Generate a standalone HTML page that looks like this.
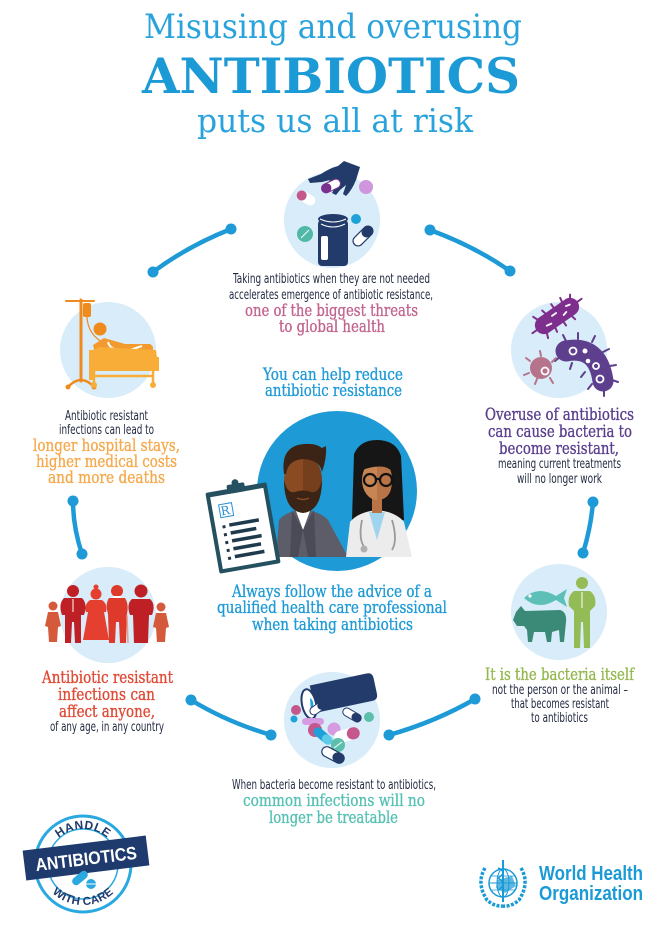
<!DOCTYPE html>
<html><head><meta charset="utf-8"><style>
html,body{margin:0;padding:0;background:#fff;}
svg{display:block;}
.ss{font-family:"DejaVu Serif","Liberation Serif",serif;}
.sn{font-family:"Liberation Sans Narrow","DejaVu Sans Condensed","Liberation Sans",sans-serif;fill:#222a40;font-size:13.5px;}
.hd{font-family:"DejaVu Serif","Liberation Serif",serif;font-size:16.5px;stroke-width:0.35;}
</style></head><body>
<svg width="662" height="929" viewBox="0 0 662 929" xmlns="http://www.w3.org/2000/svg">
<rect width="662" height="929" fill="#fff"/>

<!-- Title -->
<text class="ss" x="144" y="38" textLength="378" lengthAdjust="spacingAndGlyphs" font-size="34" fill="#2aa3dc">Misusing and overusing</text>
<text class="ss" x="142" y="93" textLength="378" lengthAdjust="spacingAndGlyphs" font-size="49" font-weight="bold" fill="#1c9ad6">ANTIBIOTICS</text>
<text class="ss" x="197" y="132" textLength="276" lengthAdjust="spacingAndGlyphs" font-size="33" fill="#2aa3dc">puts us all at risk</text>

<!-- Connectors -->
<g stroke="#1e9ad6" stroke-width="4.5" fill="none" stroke-linecap="round">
<path d="M153,272 Q188,246 231,229"/>
<path d="M430,230 Q474,246 510,271"/>
<path d="M73,501 Q73,527 82,554"/>
<path d="M593,502 Q591,527 583,553"/>
<path d="M191,700 Q227,722 271,735"/>
<path d="M389,735 Q435,722 475,699"/>
</g>
<g fill="#1e9ad6">
<circle cx="153" cy="272" r="5.5"/><circle cx="231" cy="229" r="5.5"/>
<circle cx="430" cy="230" r="5.5"/><circle cx="510" cy="271" r="5.5"/>
<circle cx="73" cy="501" r="5.5"/><circle cx="82" cy="554" r="5.5"/>
<circle cx="593" cy="502" r="5.5"/><circle cx="583" cy="553" r="5.5"/>
<circle cx="191" cy="700" r="5.5"/><circle cx="271" cy="735" r="5.5"/>
<circle cx="389" cy="735" r="5.5"/><circle cx="475" cy="699" r="5.5"/>
</g>

<!-- Top icon: hand + bottle -->
<circle cx="332" cy="220" r="48" fill="#d8ecf9"/>
<rect x="318" y="220" width="30" height="46" rx="4" fill="#223b6b"/>
<ellipse cx="333" cy="219" rx="15" ry="5" fill="#223b6b"/>
<path d="M320,219 Q333,225 346,219 M321,224 Q333,230 345,224" stroke="#fff" stroke-width="1" fill="none"/>
<rect x="321" y="236" width="7" height="24" rx="2" fill="#fff"/>
<path d="M344,161 L360,167 L356,180 Q352,190 346,196 L343,194 L346,185 L340,190 L336,195 L332,193 L337,184 L331,188 L326,192 L322,189 L330,180 L322,182 L310,183 L308,179 L321,174 Q330,168 338,166 Z" fill="#223b6b"/>
<g transform="translate(331,186) rotate(-25)"><rect x="-10" y="-4.5" width="20" height="9" rx="4.5" fill="#fff" stroke="#7b2f8e" stroke-width="1"/><rect x="-10" y="-4.5" width="10" height="9" rx="4.5" fill="#7b2f8e"/></g>
<g transform="translate(306,198) rotate(30)"><rect x="-10" y="-5" width="20" height="10" rx="5" fill="#fff"/><rect x="-10" y="-5" width="10" height="10" rx="5" fill="#c4578b"/></g>
<circle cx="305" cy="234" r="8" fill="#4fb8a6"/><line x1="301" y1="238" x2="309" y2="230" stroke="#fff" stroke-width="1"/>
<circle cx="356" cy="219" r="5" fill="#1ea1d8"/>
<circle cx="366" cy="187" r="7" fill="#cf96dd"/>
<g transform="translate(363,236) rotate(-45)"><rect x="-12" y="-5" width="24" height="10" rx="5" fill="#fff" stroke="#223b6b" stroke-width="1.2"/><rect x="0" y="-5" width="12" height="10" rx="5" fill="#223b6b"/></g>

<text class="sn" x="233" y="283" textLength="197" lengthAdjust="spacingAndGlyphs">Taking antibiotics when they are not needed</text>
<text class="sn" x="229" y="299" textLength="204" lengthAdjust="spacingAndGlyphs">accelerates emergence of antibiotic resistance,</text>
<text class="hd" x="245" y="316" textLength="173" lengthAdjust="spacingAndGlyphs" fill="#c2648f" stroke="#c2648f">one of the biggest threats</text>
<text class="hd" x="279" y="332" textLength="106" lengthAdjust="spacingAndGlyphs" fill="#c2648f" stroke="#c2648f">to global health</text>

<!-- Left icon: hospital -->
<circle cx="108" cy="350" r="48" fill="#d8ecf9"/>
<g stroke="#ef8b1d" fill="none" stroke-linecap="round">
<line x1="81" y1="300" x2="81" y2="381" stroke-width="3"/>
<line x1="66" y1="301" x2="94" y2="301" stroke-width="2"/>
<path d="M68,387 Q81,373 94,387" stroke-width="2.5"/>
<path d="M87,317 Q88,335 104,343" stroke-width="1.2"/>
</g>
<rect x="83" y="303" width="8" height="14" rx="2" fill="#ef8b1d"/>
<circle cx="68" cy="387" r="2.5" fill="#ef8b1d"/><circle cx="94" cy="387" r="2.5" fill="#ef8b1d"/>
<circle cx="100" cy="329" r="6.5" fill="#ef8b1d"/>
<path d="M93,345 L104,338 L125,344 L150,344 Q155,347 152,351 L96,357 Z" fill="#f29a2e"/>
<path d="M108,342 Q110,352 130,350 L142,346" stroke="#fff" stroke-width="2" fill="none"/>
<path d="M90,351 L100,347 L156,350 L157,358 L90,358 Z" fill="#f7ad38"/>
<rect x="89" y="357" width="70" height="14" fill="#f7ad38"/>
<rect x="89" y="350" width="4" height="30" fill="#f7ad38"/>
<g stroke="#f7ad38" stroke-width="2.5"><line x1="94" y1="371" x2="94" y2="383"/><line x1="153" y1="371" x2="153" y2="383"/><line x1="94" y1="376" x2="153" y2="376"/></g>
<circle cx="94" cy="385" r="3" fill="#f7ad38"/><circle cx="153" cy="385" r="3" fill="#f7ad38"/>

<text class="sn" x="65" y="420" textLength="83" lengthAdjust="spacingAndGlyphs">Antibiotic resistant</text>
<text class="sn" x="59" y="434" textLength="95" lengthAdjust="spacingAndGlyphs">infections can lead to</text>
<text class="hd" x="33" y="451" textLength="147" lengthAdjust="spacingAndGlyphs" fill="#f6a94b" stroke="#f6a94b">longer hospital stays,</text>
<text class="hd" x="36" y="467" textLength="141" lengthAdjust="spacingAndGlyphs" fill="#f6a94b" stroke="#f6a94b">higher medical costs</text>
<text class="hd" x="48" y="483" textLength="117" lengthAdjust="spacingAndGlyphs" fill="#f6a94b" stroke="#f6a94b">and more deaths</text>

<!-- Right icon: bacteria -->
<circle cx="559" cy="350" r="48" fill="#d8ecf9"/>
<g transform="translate(557,316) rotate(-35)">
<g stroke="#7e2f8e" stroke-width="2" stroke-linecap="round">
<line x1="-18" y1="-8" x2="-20" y2="-13"/><line x1="-8" y1="-8" x2="-9" y2="-13"/><line x1="2" y1="-8" x2="2" y2="-13"/><line x1="12" y1="-8" x2="13" y2="-13"/><line x1="20" y1="-6" x2="23" y2="-10"/>
<line x1="-18" y1="8" x2="-20" y2="13"/><line x1="-8" y1="8" x2="-9" y2="13"/><line x1="2" y1="8" x2="2" y2="13"/><line x1="12" y1="8" x2="13" y2="13"/><line x1="-25" y1="0" x2="-30" y2="0"/><line x1="25" y1="0" x2="30" y2="0"/>
</g>
<rect x="-25" y="-9" width="50" height="18" rx="9" fill="#7e2f8e"/>
<g stroke="#fff" stroke-width="1.8" stroke-linecap="round"><line x1="-14" y1="2" x2="-9" y2="3"/><line x1="-4" y1="-3" x2="1" y2="-3"/><line x1="6" y1="3" x2="10" y2="2"/><line x1="13" y1="-3" x2="17" y2="-2"/></g>
</g>
<g stroke="#5d3f8e" stroke-width="2" stroke-linecap="round">
<line x1="566" y1="341" x2="563" y2="335"/><line x1="578" y1="339" x2="578" y2="333"/><line x1="592" y1="342" x2="595" y2="336"/><line x1="603" y1="352" x2="609" y2="349"/><line x1="610" y1="366" x2="616" y2="365"/><line x1="612" y1="380" x2="618" y2="382"/><line x1="560" y1="357" x2="555" y2="361"/><line x1="572" y1="363" x2="570" y2="369"/><line x1="585" y1="372" x2="581" y2="377"/><line x1="592" y1="384" x2="588" y2="389"/><line x1="604" y1="391" x2="604" y2="396"/>
</g>
<path d="M566,351 Q598,345 603,381" stroke="#5d3f8e" stroke-width="21" fill="none" stroke-linecap="round"/>
<g fill="none" stroke="#fff" stroke-width="1.8"><circle cx="573" cy="351" r="3.5"/><circle cx="596" cy="366" r="3"/><circle cx="600" cy="379" r="3.5"/></g>
<circle cx="585" cy="351" r="2.5" fill="#fff"/><circle cx="588" cy="361" r="2.3" fill="#fff"/>
<g stroke="#b5748b" stroke-width="2" stroke-linecap="round"><line x1="541" y1="356" x2="540" y2="351"/><line x1="530" y1="361" x2="526" y2="358"/><line x1="529" y1="373" x2="524" y2="375"/><line x1="537" y1="379" x2="535" y2="384"/><line x1="550" y1="378" x2="553" y2="383"/><line x1="552" y1="362" x2="556" y2="358"/></g>
<circle cx="541" cy="368" r="11" fill="#b5748b"/>
<circle cx="545" cy="371" r="3.5" fill="none" stroke="#fff" stroke-width="1.8"/>

<text class="hd" x="485" y="420" textLength="149" lengthAdjust="spacingAndGlyphs" fill="#5a3e8e" stroke="#5a3e8e">Overuse of antibiotics</text>
<text class="hd" x="488" y="437" textLength="144" lengthAdjust="spacingAndGlyphs" fill="#5a3e8e" stroke="#5a3e8e">can cause bacteria to</text>
<text class="hd" x="499" y="454" textLength="120" lengthAdjust="spacingAndGlyphs" fill="#5a3e8e" stroke="#5a3e8e">become resistant,</text>
<text class="sn" x="498" y="468" textLength="123" lengthAdjust="spacingAndGlyphs">meaning current treatments</text>
<text class="sn" x="517" y="483" textLength="85" lengthAdjust="spacingAndGlyphs">will no longer work</text>

<!-- Center -->
<text class="hd" x="263" y="380" textLength="140" lengthAdjust="spacingAndGlyphs" fill="#1e9ad6" stroke="#1e9ad6">You can help reduce</text>
<text class="hd" x="265" y="396" textLength="137" lengthAdjust="spacingAndGlyphs" fill="#1e9ad6" stroke="#1e9ad6">antibiotic resistance</text>

<circle cx="337" cy="491" r="80" fill="#1e9ad6"/>
<!-- man -->
<path d="M276,557 L279,520 Q285,512 303,509 Q321,512 328,520 L348,557 Z" fill="#5d5d6a"/>
<path d="M296,511 L303,530 L310,511 Z" fill="#fff"/>
<path d="M292,510 L303,530 L298,557 L290,557 Z" fill="#4b4b58"/>
<path d="M314,510 L303,530 L308,557 L316,557 Z" fill="#4b4b58"/>
<ellipse cx="303" cy="481" rx="19" ry="25" fill="#8a4a22"/>
<path d="M303,456 Q322,458 322,481 Q322,504 303,506 Z" fill="#753e1c"/>
<path d="M284,474 Q280,446 304,444 Q316,443 322,448 L326,446 Q327,458 322,472 Q320,460 303,459 Q288,460 286,474 Z" fill="#3b2416"/>
<path d="M284,480 Q284,511 303,513 Q322,511 322,480 Q319,494 311,492 Q303,489 295,492 Q287,494 284,480 Z" fill="#3b2416"/>
<path d="M297,498 Q303,501 309,498" stroke="#8a4a22" stroke-width="1.5" fill="none"/>
<!-- woman -->
<path d="M354,454 Q360,440 377,440 Q396,440 401,456 L404,520 L352,520 Z" fill="#161616"/>
<path d="M346,557 L350,522 Q358,512 377,510 Q396,512 404,522 L412,557 Z" fill="#ececec"/>
<path d="M369,512 L377,540 L385,512 Z" fill="#9fd4ee"/>
<rect x="372" y="498" width="10" height="15" fill="#b87446"/>
<ellipse cx="377" cy="480" rx="15" ry="20" fill="#c68552"/>
<path d="M377,460 Q392,462 392,480 Q392,500 377,500 Z" fill="#b87446"/>
<path d="M362,470 Q364,456 380,457 Q392,458 393,472 Q384,462 362,470 Z" fill="#161616"/>
<g fill="none" stroke="#111" stroke-width="2.2"><circle cx="370" cy="480" r="6"/><circle cx="386" cy="480" r="6"/><line x1="376" y1="479" x2="380" y2="479"/></g>
<path d="M362,520 Q358,540 365,548 M392,520 Q398,540 392,550" stroke="#9a9a9a" stroke-width="1.8" fill="none"/>
<circle cx="364" cy="549" r="3.5" fill="#b0b0b0"/>
<!-- clipboard -->
<g transform="translate(243,528) rotate(-10)">
<rect x="-31" y="-41" width="62" height="82" rx="2" fill="#24505f"/>
<rect x="-27" y="-36" width="54" height="73" fill="#fff"/>
<rect x="-9" y="-45" width="18" height="9" rx="2" fill="#24505f"/>
<circle cx="0" cy="-46" r="3.5" fill="#24505f"/>
<rect x="-20" y="-27" width="13" height="13" fill="none" stroke="#2a8fd0" stroke-width="1"/>
<text x="-19" y="-16" font-family="DejaVu Serif,serif" font-size="12" fill="#2a8fd0">R</text>
<g fill="#1f3a4d"><rect x="-20" y="-6" width="3" height="3"/><rect x="-13" y="-7" width="30" height="3.5"/><rect x="-20" y="2" width="3" height="3"/><rect x="-13" y="1" width="26" height="3.5"/><rect x="-20" y="10" width="3" height="3"/><rect x="-13" y="9" width="30" height="3.5"/><rect x="-20" y="18" width="3" height="3"/><rect x="-13" y="17" width="28" height="3.5"/><rect x="-20" y="26" width="3" height="3"/><rect x="-13" y="25" width="30" height="3.5"/></g>
</g>

<text class="hd" x="232" y="597" textLength="200" lengthAdjust="spacingAndGlyphs" fill="#1e9ad6" stroke="#1e9ad6">Always follow the advice of a</text>
<text class="hd" x="217" y="613" textLength="230" lengthAdjust="spacingAndGlyphs" fill="#1e9ad6" stroke="#1e9ad6">qualified health care professional</text>
<text class="hd" x="252" y="630" textLength="161" lengthAdjust="spacingAndGlyphs" fill="#1e9ad6" stroke="#1e9ad6">when taking antibiotics</text>

<!-- Right-bottom icon: fish, cow, person -->
<circle cx="559" cy="612" r="48" fill="#d8ecf9"/>
<path d="M524,598 Q538,585 556,596 L567,589 L564,598 L567,607 L556,600 Q538,611 524,598 Z" fill="#5dc0b8"/>
<circle cx="530" cy="596" r="1.6" fill="#fff"/>
<path d="M516,612 L521,606 L525,611 L560,610 Q567,612 566,622 L564,642 L560,642 L559,630 L552,632 L551,642 L547,642 L545,632 L534,632 L532,642 L528,642 L527,630 L524,626 L517,626 L513,620 Z" fill="#3b8a78"/>
<circle cx="582" cy="583" r="6" fill="#93bb56"/>
<path d="M574,591 L590,591 Q597,596 595,606 L590,611 L590,648 L584,648 L583,622 L581,622 L580,648 L574,648 L574,611 L569,606 Q567,596 574,591 Z" fill="#93bb56"/>
<line x1="582" y1="592" x2="582" y2="608" stroke="#fff" stroke-width="1"/>

<text class="hd" x="485" y="680" textLength="149" lengthAdjust="spacingAndGlyphs" fill="#95b84f" stroke="#95b84f">It is the bacteria itself</text>
<text class="sn" x="492" y="694" textLength="136" lengthAdjust="spacingAndGlyphs">not the person or the animal –</text>
<text class="sn" x="511" y="708" textLength="98" lengthAdjust="spacingAndGlyphs">that becomes resistant</text>
<text class="sn" x="531" y="722" textLength="57" lengthAdjust="spacingAndGlyphs">to antibiotics</text>

<!-- Left-bottom icon: people -->
<circle cx="108" cy="615" r="48" fill="#d8ecf9"/>
<g fill="#d45a3b"><circle cx="53" cy="606" r="4.5"/><path d="M48,612 L58,612 L61,626 L58,627 L57,642 L49,642 L48,627 L45,626 Z"/>
<circle cx="161" cy="607" r="4.5"/><path d="M156,613 L166,613 L169,627 L166,628 L165,642 L157,642 L156,628 L153,627 Z"/></g>
<g fill="#be2025"><circle cx="73" cy="591" r="6"/><path d="M64,598 L82,598 Q88,604 84,615 L81,615 L81,643 L75,643 L74,622 L72,622 L71,643 L65,643 L65,615 L62,615 Q58,604 64,598 Z"/>
<circle cx="141" cy="591" r="6.5"/><path d="M132,599 L150,599 Q156,604 152,615 L149,615 L148,643 L134,643 L133,615 L130,615 Q126,604 132,599 Z"/></g>
<line x1="73" y1="599" x2="73" y2="612" stroke="#fff" stroke-width="1"/>
<g fill="#e43f2f"><circle cx="96" cy="594" r="5.5"/><circle cx="96" cy="587" r="2.5"/><path d="M90,600 L102,600 Q108,604 106,612 L104,612 L109,640 L83,640 L88,612 L86,612 Q84,604 90,600 Z"/></g>
<g fill="#de3a2c"><circle cx="117" cy="591" r="6"/><path d="M109,598 L125,598 Q129,604 127,614 L126,643 L120,643 L119,622 L116,622 L115,643 L109,643 L108,614 Q105,604 109,598 Z"/></g>
<line x1="127" y1="615" x2="128" y2="643" stroke="#e8a090" stroke-width="1.5"/>
<rect x="113" y="596" width="8" height="2" fill="#fff"/>

<text class="hd" x="42" y="683" textLength="131" lengthAdjust="spacingAndGlyphs" fill="#df4a35" stroke="#df4a35">Antibiotic resistant</text>
<text class="hd" x="58" y="700" textLength="97" lengthAdjust="spacingAndGlyphs" fill="#df4a35" stroke="#df4a35">infections can</text>
<text class="hd" x="59" y="717" textLength="96" lengthAdjust="spacingAndGlyphs" fill="#df4a35" stroke="#df4a35">affect anyone,</text>
<text class="sn" x="50" y="731" textLength="114" lengthAdjust="spacingAndGlyphs">of any age, in any country</text>

<!-- Bottom icon: spilled pills -->
<circle cx="332" cy="720" r="48" fill="#d8ecf9"/>
<g transform="translate(342,693) rotate(-12)">
<path d="M-30,-14 L28,-14 Q34,-14 34,-8 L34,8 Q34,14 28,14 L-30,14 Z" fill="#223b6b"/>
</g>
<ellipse cx="309" cy="704" rx="7" ry="15" transform="rotate(-12 309 704)" fill="#fff" stroke="#223b6b" stroke-width="2"/>
<path d="M310,698 Q316,702 311,712" fill="#1ea1d8"/>
<circle cx="296" cy="710" r="5" fill="#c4578b"/>
<circle cx="294" cy="719" r="3.5" fill="#1ea1d8"/>
<g transform="translate(318,708) rotate(-35)"><rect x="-9" y="-4" width="18" height="8" rx="4" fill="#fff" stroke="#223b6b" stroke-width="1"/><rect x="0" y="-4" width="9" height="8" rx="4" fill="#223b6b"/></g>
<rect x="302" y="718" width="22" height="7" rx="3.5" fill="#d69be0"/>
<circle cx="315" cy="730" r="7" fill="#c4578b"/>
<g transform="translate(323,736) rotate(40)"><rect x="-11" y="-4.5" width="22" height="9" rx="4.5" fill="#1ea1d8"/><rect x="0" y="-4.5" width="11" height="9" rx="4.5" fill="#5ecbe8"/></g>
<circle cx="334" cy="729" r="6.5" fill="#d69be0"/>
<g transform="translate(347,735) rotate(-15)"><rect x="-13" y="-6" width="26" height="12" rx="6" fill="#fff"/><rect x="0" y="-6" width="13" height="12" rx="6" fill="#c4578b"/></g>
<circle cx="338" cy="745" r="7" fill="#5bbfab"/>
<line x1="334" y1="748" x2="342" y2="742" stroke="#fff" stroke-width="1"/>
<g transform="translate(333,755) rotate(28)"><rect x="-12" y="-5" width="24" height="10" rx="5" fill="#fff" stroke="#223b6b" stroke-width="1.2"/><rect x="0" y="-5" width="12" height="10" rx="5" fill="#223b6b"/></g>
<g transform="translate(352,715) rotate(30)"><rect x="-10" y="-4" width="20" height="8" rx="4" fill="#fff" stroke="#223b6b" stroke-width="1"/><rect x="0" y="-4" width="10" height="8" rx="4" fill="#223b6b"/></g>
<circle cx="369" cy="717" r="5" fill="#5bbfab"/>

<text class="sn" x="232" y="789" textLength="204" lengthAdjust="spacingAndGlyphs">When bacteria become resistant to antibiotics,</text>
<text class="hd" x="243" y="806" textLength="182" lengthAdjust="spacingAndGlyphs" fill="#55c1b3" stroke="#55c1b3">common infections will no</text>
<text class="hd" x="269" y="823" textLength="129" lengthAdjust="spacingAndGlyphs" fill="#55c1b3" stroke="#55c1b3">longer be treatable</text>

<!-- Handle antibiotics with care logo -->
<defs>
<path id="arcTop" d="M46,866 A37,37 0 0 1 120,866"/>
<path id="arcBot" d="M38,860 A45,45 0 0 0 128,860"/>
</defs>
<circle cx="83" cy="864" r="48" fill="none" stroke="#2aa8e0" stroke-width="3"/>
<circle cx="83" cy="864" r="35" fill="none" stroke="#2aa8e0" stroke-width="1.5"/>
<text font-family="Liberation Sans, sans-serif" font-weight="bold" font-size="12" fill="#1f3a6c" letter-spacing="0.5"><textPath href="#arcTop" startOffset="50%" text-anchor="middle">HANDLE</textPath></text>
<text font-family="Liberation Sans, sans-serif" font-weight="bold" font-size="11.5" fill="#1f3a6c" letter-spacing="0.3"><textPath href="#arcBot" startOffset="50%" text-anchor="middle">WITH CARE</textPath></text>
<g transform="rotate(-7 86 858)">
<rect x="24" y="843" width="124" height="30" fill="#1f3a6c"/>
<text x="35" y="865" textLength="102" lengthAdjust="spacingAndGlyphs" font-family="Liberation Sans Narrow, Liberation Sans, sans-serif" font-weight="bold" font-size="18" fill="#fff">ANTIBIOTICS</text>
</g>
<g transform="translate(80,878) rotate(-40)"><rect x="-9" y="-4" width="18" height="8" rx="4" fill="#2aa8e0"/></g>
<circle cx="91" cy="884" r="5" fill="#2aa8e0"/><line x1="86" y1="884" x2="96" y2="884" stroke="#fff" stroke-width="1"/>

<!-- WHO logo -->
<g stroke="#1a9ad6" fill="none">
<circle cx="503" cy="883" r="14" stroke-width="1.5"/>
<ellipse cx="503" cy="883" rx="6" ry="14" stroke-width="1"/>
<line x1="489" y1="883" x2="517" y2="883" stroke-width="1"/>
<line x1="491" y1="876" x2="515" y2="876" stroke-width="0.8"/>
<line x1="491" y1="890" x2="515" y2="890" stroke-width="0.8"/>
<path d="M485,868 Q476,883 487,900 Q495,907 503,906" stroke-width="3.5" stroke-dasharray="3 1.5"/>
<path d="M521,868 Q530,883 519,900 Q511,907 503,906" stroke-width="3.5" stroke-dasharray="3 1.5"/>
<line x1="503" y1="860" x2="503" y2="902" stroke-width="2"/>
<path d="M498,868 Q508,872 498,878 Q508,884 498,890" stroke-width="1.5"/>
</g>
<path d="M497,880 L512,876 L516,886 L505,893 L496,888 Z" fill="#1a9ad6" opacity="0.7"/>
<text x="539" y="880" textLength="104" lengthAdjust="spacingAndGlyphs" font-family="Liberation Sans Narrow, Liberation Sans, sans-serif" font-weight="bold" font-size="20" fill="#1a9ad6">World Health</text>
<text x="539" y="900" textLength="104" lengthAdjust="spacingAndGlyphs" font-family="Liberation Sans Narrow, Liberation Sans, sans-serif" font-weight="bold" font-size="20" fill="#1a9ad6">Organization</text>
</svg>
</body></html>
